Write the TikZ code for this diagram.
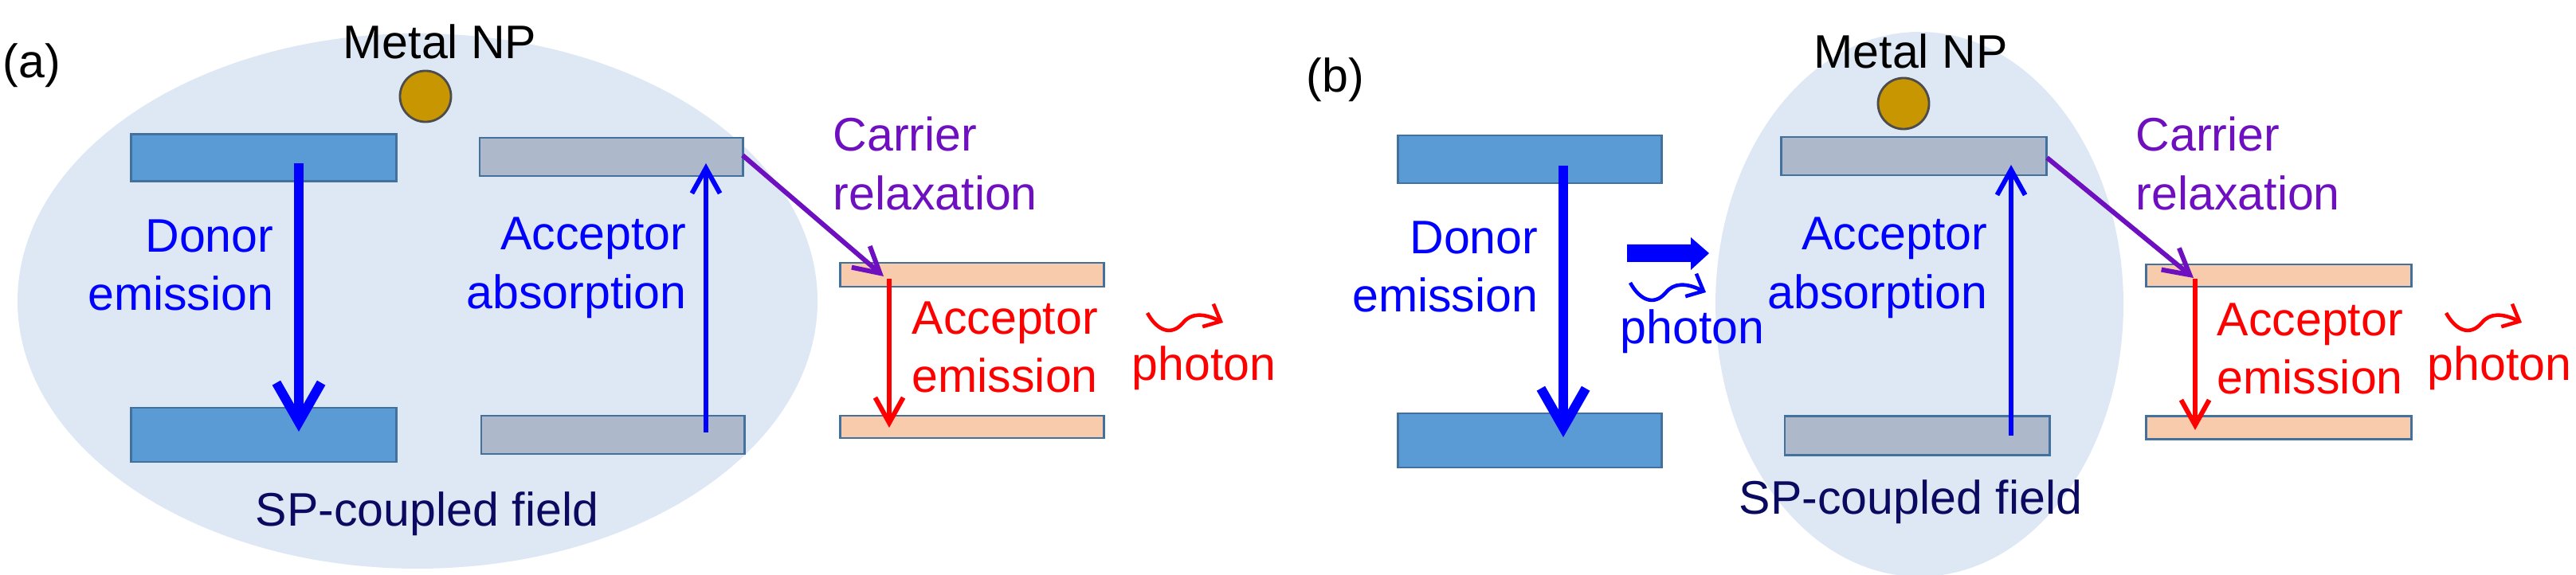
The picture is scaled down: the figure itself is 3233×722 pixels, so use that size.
\documentclass[tikz,border=0pt]{standalone}
\usepackage{fontspec}
\setmainfont{Liberation Sans}
\usetikzlibrary{arrows.meta}
\definecolor{fieldc}{HTML}{DEE8F4}
\definecolor{donc}{HTML}{5B9BD5}
\definecolor{accc}{HTML}{ADB9CA}
\definecolor{orc}{HTML}{F8CBAD}
\definecolor{edgec}{HTML}{41719C}
\definecolor{npc}{HTML}{C89600}
\definecolor{purp}{HTML}{6E10C0}
\definecolor{navy}{HTML}{0A0A60}
\begin{document}
\begin{tikzpicture}[x=0.01cm,y=-0.01cm,
  txt/.style={font=\fontsize{16.8}{21}\selectfont,inner sep=0pt},
  lvl/.style={draw=edgec,line width=0.8pt,inner sep=0pt},
  thick arr/.style={blue,line width=3.4pt,-{Straight Barb[length=14pt,width=16pt,line width=3.4pt]}},
  thin arr/.style={line width=1.7pt,-{Straight Barb[length=9pt,width=10pt]}},
  squig/.pic={\draw[line width=1.3pt,-{Straight Barb[length=5pt,width=9pt]}] (0,0) .. controls (12,22) and (30,30) .. (45,12) .. controls (55,0) and (70,0) .. (95,12);}
]
\useasboundingbox (0,0) rectangle (3233,722);
% ===== panel (a) =====
\fill[fieldc] (524,378) ellipse [x radius=502,y radius=336];
\node[txt] (la) at (40,82) {(a)};
\node[txt] (npa) at (552,52) {Metal NP};
\node[draw=black!70,fill=npc,line width=0.8pt,circle,inner sep=0pt,minimum size=0.64cm] (nca) at (534,121) {};
\node[lvl,fill=donc,minimum width=3.32cm,minimum height=0.59cm] (dta) at (331,198) {};
\node[lvl,fill=donc,minimum width=3.32cm,minimum height=0.68cm] (dba) at (331,546) {};
\node[lvl,fill=accc,minimum width=3.30cm,minimum height=0.48cm] (ata) at (767,197) {};
\node[lvl,fill=accc,minimum width=3.30cm,minimum height=0.48cm] (aba) at (769,546) {};
\node[lvl,fill=orc,minimum width=3.31cm,minimum height=0.30cm] (ota) at (1220,345) {};
\node[lvl,fill=orc,minimum width=3.31cm,minimum height=0.28cm] (oba) at (1220,536) {};
\coordinate (a1) at (375,205); \coordinate (a2) at (375,542);
\draw[thick arr] (a1) -- (a2);
\coordinate (a3) at (886,543); \coordinate (a4) at (886,205);
\draw[thin arr,blue] (a3) -- (a4);
\coordinate (a5) at (932,195); \coordinate (a6) at (1109,347);
\draw[thin arr,purp] (a5) -- (a6);
\coordinate (a7) at (1116,350); \coordinate (a8) at (1116,537);
\draw[thin arr,red] (a7) -- (a8);
\node[txt,blue,align=right,anchor=east] (dea) at (344,333) {Donor\\emission};
\node[txt,blue,align=right,anchor=east] (aaa) at (862,336) {Acceptor\\absorption};
\node[txt,purp,align=left,anchor=west] (cra) at (1045,205) {Carrier\\relaxation};
\node[txt,red,align=left,anchor=west] (aea) at (1144,436) {Acceptor\\emission};
\pic[red] at (1440,393) {squig};
\node[txt,red,anchor=west] (pha) at (1420,462) {photon};
\node[txt,navy] (spa) at (536,645) {SP-coupled field};
% ===== panel (b) =====
\fill[fieldc] (2409,382) ellipse [x radius=256,y radius=342];
\node[txt] (lb) at (1676,100) {(b)};
\node[txt] (npb) at (2398,64) {Metal NP};
\node[draw=black!70,fill=npc,line width=0.8pt,circle,inner sep=0pt,minimum size=0.64cm] (ncb) at (2389,130) {};
\node[lvl,fill=donc,minimum width=3.31cm,minimum height=0.60cm] (dtb) at (1920,200) {};
\node[lvl,fill=donc,minimum width=3.31cm,minimum height=0.68cm] (dbb) at (1920,553) {};
\node[lvl,fill=accc,minimum width=3.33cm,minimum height=0.48cm] (atb) at (2402,196) {};
\node[lvl,fill=accc,minimum width=3.32cm,minimum height=0.49cm] (abb) at (2406,547) {};
\node[lvl,fill=orc,minimum width=3.33cm,minimum height=0.28cm] (otb) at (2860,346) {};
\node[lvl,fill=orc,minimum width=3.33cm,minimum height=0.29cm] (obb) at (2860,537) {};
\coordinate (b1) at (1962,208); \coordinate (b2) at (1962,549);
\draw[thick arr] (b1) -- (b2);
\coordinate (b3) at (2524,547); \coordinate (b4) at (2524,207);
\draw[thin arr,blue] (b3) -- (b4);
\coordinate (b5) at (2569,198); \coordinate (b6) at (2753,349);
\draw[thin arr,purp] (b5) -- (b6);
\coordinate (b7) at (2755,350); \coordinate (b8) at (2755,540);
\draw[thin arr,red] (b7) -- (b8);
\fill[blue] (2042,307) -- (2122,307) -- (2122,298) -- (2145,318) -- (2122,339) -- (2122,329) -- (2042,329) -- cycle;
\pic[blue] at (2046,355) {squig};
\node[txt,blue,anchor=west] (phb1) at (2033,416) {photon};
\node[txt,blue,align=right,anchor=east] (deb) at (1931,335) {Donor\\emission};
\node[txt,blue,align=right,anchor=east] (aab) at (2495,336) {Acceptor\\absorption};
\node[txt,purp,align=left,anchor=west] (crb) at (2680,205) {Carrier\\relaxation};
\node[txt,red,align=left,anchor=west] (aeb) at (2782,438) {Acceptor\\emission};
\pic[red] at (3070,393) {squig};
\node[txt,red,anchor=west] (phb) at (3046,462) {photon};
\node[txt,navy] (spb) at (2398,630) {SP-coupled field};
\end{tikzpicture}
\end{document}
